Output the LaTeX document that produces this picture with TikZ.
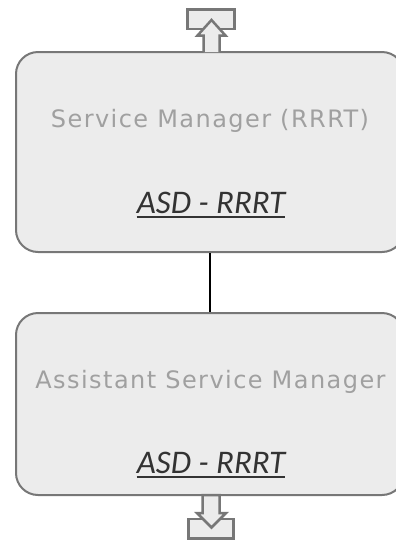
\documentclass[tikz,border=0pt]{standalone}
\usepackage{fontspec}
\newfontfamily\titlefont[LetterSpace=6]{DejaVu Sans}
\newfontfamily\codefont{Carlito}
\definecolor{boxfill}{HTML}{ECECEC}
\definecolor{boxline}{HTML}{777777}
\definecolor{titlegray}{HTML}{A0A0A0}
\definecolor{codegray}{HTML}{333333}
\tikzset{
  rolebox/.style={draw=boxline, fill=boxfill, line width=2pt, rounded corners=22pt,
    minimum width=388pt, minimum height=200pt, inner sep=0pt},
  roletitle/.style={text=titlegray, anchor=base, inner sep=0pt,
    font=\titlefont\fontsize{24}{29}\selectfont},
  rolecode/.style={text=codegray, anchor=base, inner sep=0pt,
    font=\codefont\itshape\fontsize{33}{40}\selectfont},
  uline/.style={draw=codegray, line width=1.6pt},
  iconline/.style={draw=boxline, fill=boxfill, line width=2.5pt, line join=miter},
  link/.style={draw=black, line width=2.3pt}
}
\begin{document}
\begin{tikzpicture}[x=1pt,y=-1pt]
\useasboundingbox (0,0) rectangle (396,542);
\clip (0,0) rectangle (396,542);
% boxes
\node[rolebox, minimum height=200pt] (b1) at (210,152) {};
\node[rolebox, minimum height=182pt] (b2) at (210,404) {};
% texts
\node[roletitle] (t1) at (210,127.5) {Service Manager (RRRT)};
\node[rolecode] (c1) at (211,213) {ASD - RRRT};
\draw[uline] ([yshift=-4pt]c1.base west) -- ([yshift=-4pt]c1.base east);
\node[roletitle] (t2) at (210.5,388) {Assistant Service Manager};
\node[rolecode] (c2) at (211,473) {ASD - RRRT};
\draw[uline] ([yshift=-4pt]c2.base west) -- ([yshift=-4pt]c2.base east);
% connector
\draw[link] (b1.south) -- (b2.north);
% top icon
\draw[iconline] (187.5,9.5) rectangle (234.5,29);
\draw[iconline] (203.5,52) -- (203.5,35.5) -- (197.5,35.5) -- (211.5,20) -- (225.5,35.5) -- (219.5,35.5) -- (219.5,52);
% bottom icon
\draw[iconline] (188.5,519) rectangle (233.5,538.5);
\draw[iconline] (202.5,495) -- (202.5,513) -- (197,513) -- (211.5,527.5) -- (226,513) -- (219.5,513) -- (219.5,495) -- cycle;
\end{tikzpicture}
\end{document}
